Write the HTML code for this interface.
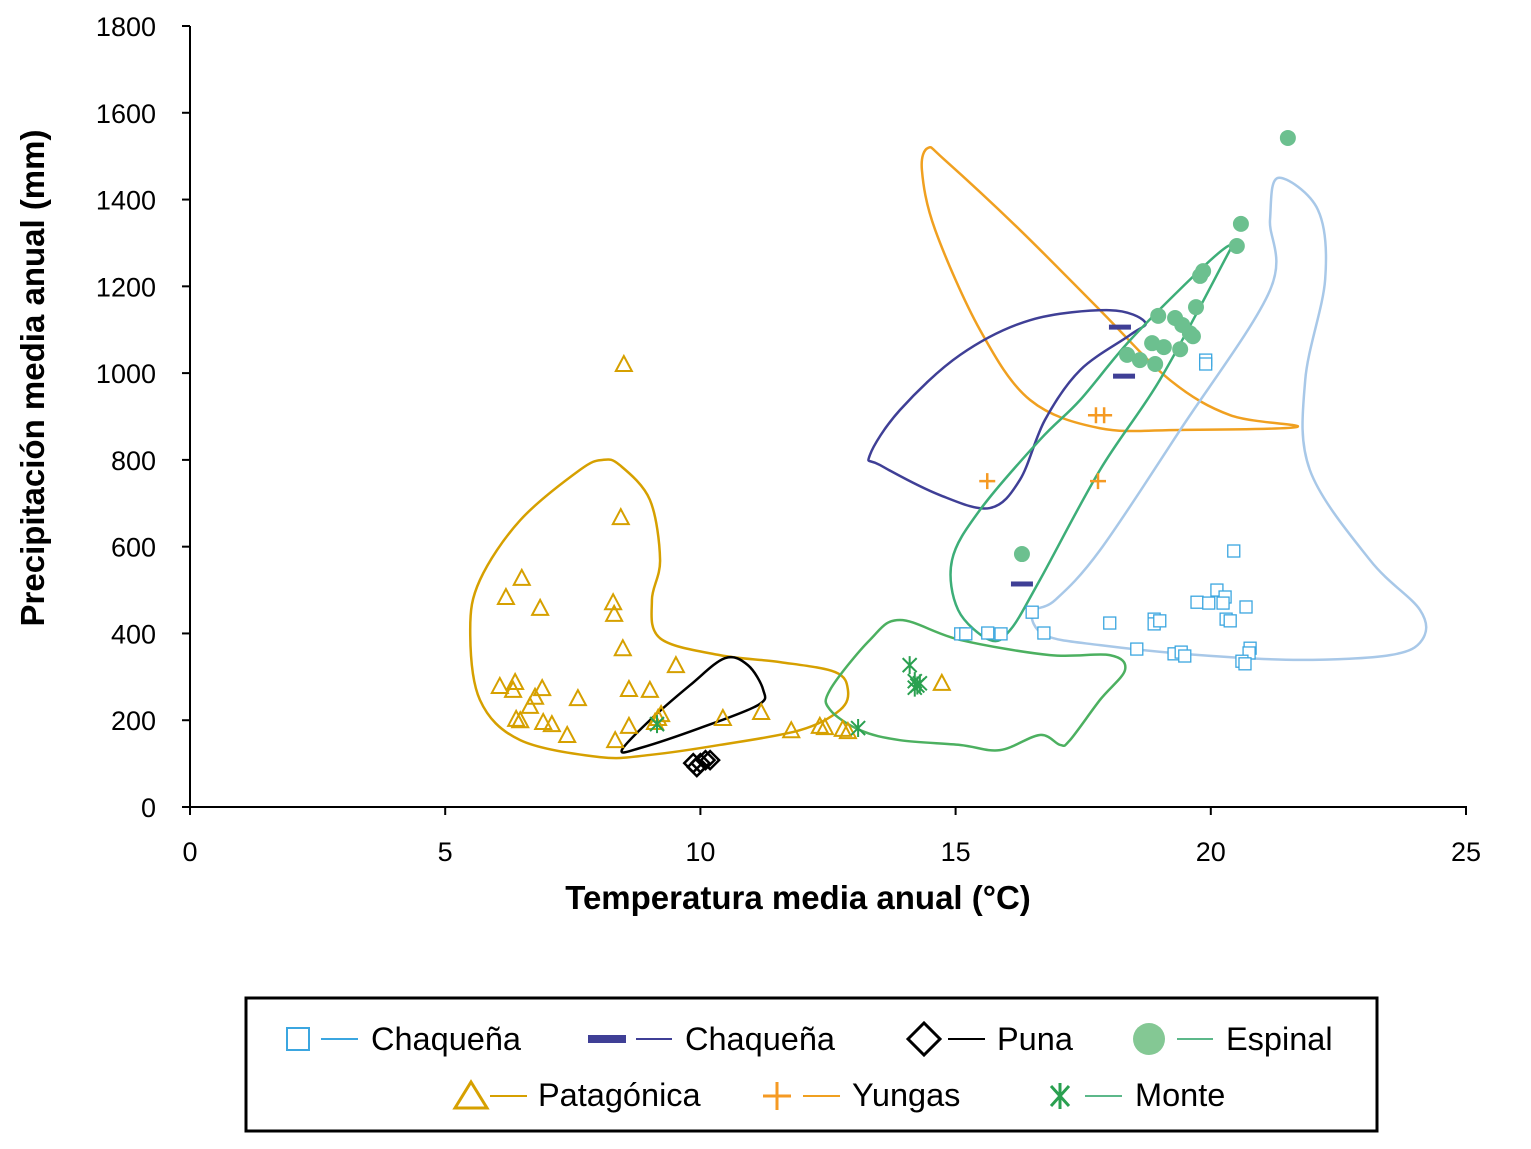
<!DOCTYPE html>
<html><head><meta charset="utf-8"><style>
body{margin:0;background:#fff;font-family:"Liberation Sans",Arial,sans-serif}
svg text{font-family:"Liberation Sans",Arial,sans-serif}
</style></head><body>
<svg id="c" width="1531" height="1144" viewBox="0 0 1531 1144">
<g id="axes"></g><g id="contours"></g><g id="pts"></g>
<text x="798" y="909" text-anchor="middle" font-size="33" font-weight="bold">Temperatura media anual (°C)</text>
<text transform="translate(44,378) rotate(-90)" text-anchor="middle" font-size="33" font-weight="bold">Precipitación media anual (mm)</text>
<g>
<rect x="246" y="998" width="1131" height="133" fill="#fff" stroke="#000" stroke-width="3"/>
<g><rect x="287" y="1028" width="22" height="22" fill="none" stroke="#3ba6e0" stroke-width="2"/><line x1="321" y1="1039" x2="358" y2="1039" stroke="#3ba6e0" stroke-width="2"/><text x="371" y="1050" font-size="32.5">Chaqueña</text></g>
<g><rect x="588" y="1035" width="38" height="8" fill="#3f3f96"/><line x1="636" y1="1039" x2="672" y2="1039" stroke="#3f3f96" stroke-width="2"/><text x="685" y="1050" font-size="32.5">Chaqueña</text></g>
<g><path d="M908 1039 L924 1023 L940 1039 L924 1055 Z" fill="none" stroke="#000" stroke-width="3"/><line x1="948" y1="1039" x2="985" y2="1039" stroke="#000" stroke-width="2"/><text x="997" y="1050" font-size="32.5">Puna</text></g>
<g><circle cx="1149" cy="1039" r="16" fill="#84c894"/><line x1="1177" y1="1039" x2="1213" y2="1039" stroke="#5cb88a" stroke-width="2"/><text x="1226" y="1050" font-size="32.5">Espinal</text></g>
<g><path d="M455 1108 L471 1082 L487 1108 Z" fill="none" stroke="#d6a000" stroke-width="3"/><line x1="490" y1="1096" x2="527" y2="1096" stroke="#d6a000" stroke-width="2"/><text x="538" y="1106" font-size="32.5">Patagónica</text></g>
<g><path d="M763 1096 H791 M777 1082 V1110" stroke="#f59a23" stroke-width="3"/><line x1="803" y1="1096" x2="840" y2="1096" stroke="#f0a020" stroke-width="2"/><text x="852" y="1106" font-size="32.5">Yungas</text></g>
<g><path d="M1051 1086 L1069 1106 M1069 1086 L1051 1106 M1060 1083 V1109" stroke="#2aa050" stroke-width="3"/><line x1="1085" y1="1096" x2="1122" y2="1096" stroke="#5cb88a" stroke-width="2"/><text x="1135" y="1106" font-size="32.5">Monte</text></g>
</g>
</svg>
<script>
const xTicks=[0,5,10,15,20,25];
const yTicks=[0,200,400,600,800,1000,1200,1400,1600,1800];
const chaqX=[19.9,19.9,20.45,20.12,20.28,20.24,19.73,19.96,20.69,20.3,20.38,16.5,18.02,18.89,18.89,19.0,20.77,20.75,18.55,19.28,19.42,19.49,20.61,20.67,15.1,15.2,15.63,15.89,16.73];
const chaqY=[1030,1021,590,500,484,470,472,470,461,433,429,449,424,433,422,429,366,355,364,353,357,348,336,330,399,399,401,399,401];
const chaq2X=[18.22,18.3,16.3];
const chaq2Y=[1106,993,514];
const punaX=[9.86,10.0,10.1,9.93,10.19];
const punaY=[101,101,108,92,108];
const espX=[21.51,20.59,20.51,19.85,19.79,19.71,18.97,19.3,19.44,19.59,19.65,18.85,19.08,19.4,18.36,18.61,18.91,16.3];
const espY=[1542,1344,1293,1235,1224,1152,1132,1127,1111,1092,1085,1069,1060,1055,1042,1030,1021,583];
const patX=[8.5,8.44,8.29,8.31,8.48,6.5,6.19,6.86,6.07,6.37,6.33,6.9,6.76,6.66,7.6,8.6,9.01,9.52,6.39,6.47,6.92,7.09,7.39,8.33,8.6,9.11,9.23,9.17,10.44,11.19,11.78,12.34,12.44,12.79,12.89,14.73];
const patY=[1021,668,472,445,366,528,484,459,279,288,270,274,254,233,251,272,270,327,203,200,196,191,166,154,187,196,214,205,205,219,177,187,184,180,175,286];
const yunX=[15.62,17.79,17.75,17.91];
const yunY=[751,751,903,903];
const monX=[14.1,14.2,14.25,14.2,14.3,13.09,9.15];
const monY=[327,290,280,275,285,182,191];
const contPatX=[8.09,7.64,6.47,5.68,5.49,5.68,6.47,8.03,9.01,10.38,11.95,12.74,12.89,12.64,11.56,10.38,9.21,9.05,9.21,9.01,8.42];
const contPatY=[800,777,661,523,408,247,154,115,120,143,177,224,270,311,334,350,389,477,569,708,788];
const contPunaX=[8.46,9.01,9.8,10.48,10.93,11.23,11.13,9.99,8.82];
const contPunaY=[131,200,281,343,327,270,235,182,136];
const contYunX=[14.46,14.79,16.26,17.83,19.2,20.38,21.69,19.4,17.83,16.46,15.48,14.6,14.34];
const contYunY=[1519,1491,1330,1145,984,903,876,869,873,938,1099,1330,1468];
const contChaq2X=[13.32,13.91,15.09,16.46,18.02,18.71,18.42,17.44,16.75,16.26,15.67,14.69,13.52];
const contChaq2Y=[811,915,1042,1122,1145,1118,1088,1007,892,754,689,719,788];
const contEspX=[20.38,19.79,18.42,17.44,16.65,15.48,14.93,15.05,15.67,16.07,16.65,17.83,19.0,20.22];
const contEspY=[1295,1238,1076,938,846,685,569,454,385,408,523,777,984,1249];
const contChaqX=[21.32,22.1,22.24,21.85,21.94,23.12,24.1,24.14,23.51,21.75,19.79,17.83,16.75,16.5,16.95,17.83,19.4,21.16,21.16];
const contChaqY=[1450,1376,1215,984,777,569,454,385,350,339,350,373,396,449,477,592,869,1191,1353];
const contMonX=[12.54,13.32,13.91,15.09,16.85,18.02,18.32,17.83,17.24,17.05,16.65,15.87,15.09,13.91,13.13,12.54];
const contMonY=[270,385,431,385,350,350,316,247,154,143,166,131,143,154,177,224];

const NS="http://www.w3.org/2000/svg";
const X=v=>190+v*(1276/25), Y=v=>807-v*(781/1800);
function mk(t,a,p){const e=document.createElementNS(NS,t);for(const k in a)e.setAttribute(k,a[k]);p.appendChild(e);return e;}
const ax=document.getElementById('axes');
let l=mk('line',{x1:190,y1:26,x2:190,y2:807,stroke:'#000','stroke-width':2},ax);


l=mk('line',{x1:189,y1:807,x2:1467,y2:807,stroke:'#000','stroke-width':2},ax);


yTicks.forEach(v=>{mk('line',{x1:182,y1:Y(v),x2:190,y2:Y(v),stroke:'#000','stroke-width':2},ax);
 const t=mk('text',{x:156,y:Y(v)+10,'text-anchor':'end','font-size':27},ax);t.textContent=v;
 
 });
xTicks.forEach(v=>{mk('line',{x1:X(v),y1:807,x2:X(v),y2:815,stroke:'#000','stroke-width':2},ax);
 const t=mk('text',{x:X(v),y:861,'text-anchor':'middle','font-size':27},ax);t.textContent=v;
 
 });
function smooth(xs,ys){const p=xs.map((x,i)=>[X(x),Y(ys[i])]);const n=p.length;let d=`M${p[0][0]},${p[0][1]}`;
 for(let i=0;i<n;i++){const p0=p[(i-1+n)%n],p1=p[i],p2=p[(i+1)%n],p3=p[(i+2)%n];
 d+=`C${p1[0]+(p2[0]-p0[0])/6},${p1[1]+(p2[1]-p0[1])/6} ${p2[0]-(p3[0]-p1[0])/6},${p2[1]-(p3[1]-p1[1])/6} ${p2[0]},${p2[1]}`;}return d+'Z';}
const cg=document.getElementById('contours');
[[contPatX,contPatY,'#d6a000','contour-patagonica'],[contPunaX,contPunaY,'#000','contour-puna'],[contYunX,contYunY,'#f0a020','contour-yungas'],[contChaq2X,contChaq2Y,'#3f3f96','contour-chaquena-2'],[contEspX,contEspY,'#3dae78','contour-espinal'],[contChaqX,contChaqY,'#a8c8e8','contour-chaquena'],[contMonX,contMonY,'#4cb060','contour-monte']].forEach(c=>{
 const e=mk('path',{d:smooth(c[0],c[1]),fill:'none',stroke:c[2],'stroke-width':2.5},cg);
 
 });
const pg=document.getElementById('pts');
chaqX.forEach((x,i)=>{const e=mk('rect',{x:X(x)-6,y:Y(chaqY[i])-6,width:12,height:12,fill:'#fff',stroke:'#3ba6e0','stroke-width':1.3},pg);
 
 });
chaq2X.forEach((x,i)=>{const e=mk('rect',{x:X(x)-11,y:Y(chaq2Y[i])-2.5,width:22,height:5,fill:'#3f3f96'},pg);
 
 });
punaX.forEach((x,i)=>{const cx=X(x),cy=Y(punaY[i]);const e=mk('path',{d:`M${cx-9},${cy}L${cx},${cy-9}L${cx+9},${cy}L${cx},${cy+9}Z`,fill:'none',stroke:'#000','stroke-width':2.5},pg);
 
 });
espX.forEach((x,i)=>{const e=mk('circle',{cx:X(x),cy:Y(espY[i]),r:8,fill:'#6cc08f'},pg);
 
 });
patX.forEach((x,i)=>{const cx=X(x),cy=Y(patY[i]);const e=mk('path',{d:`M${cx-8},${cy+7}L${cx},${cy-8}L${cx+8},${cy+7}Z`,fill:'none',stroke:'#d6a000','stroke-width':2},pg);
 
 });
yunX.forEach((x,i)=>{const cx=X(x),cy=Y(yunY[i]);const e=mk('path',{d:`M${cx-8},${cy}H${cx+8}M${cx},${cy-8}V${cy+8}`,stroke:'#f59a23','stroke-width':2.5},pg);
 
 });
monX.forEach((x,i)=>{const cx=X(x),cy=Y(monY[i]);const e=mk('path',{d:`M${cx-7},${cy-7}L${cx+7},${cy+7}M${cx+7},${cy-7}L${cx-7},${cy+7}M${cx},${cy-9}V${cy+9}`,stroke:'#2aa050','stroke-width':2},pg);
 
 });
</script>
</body></html>
